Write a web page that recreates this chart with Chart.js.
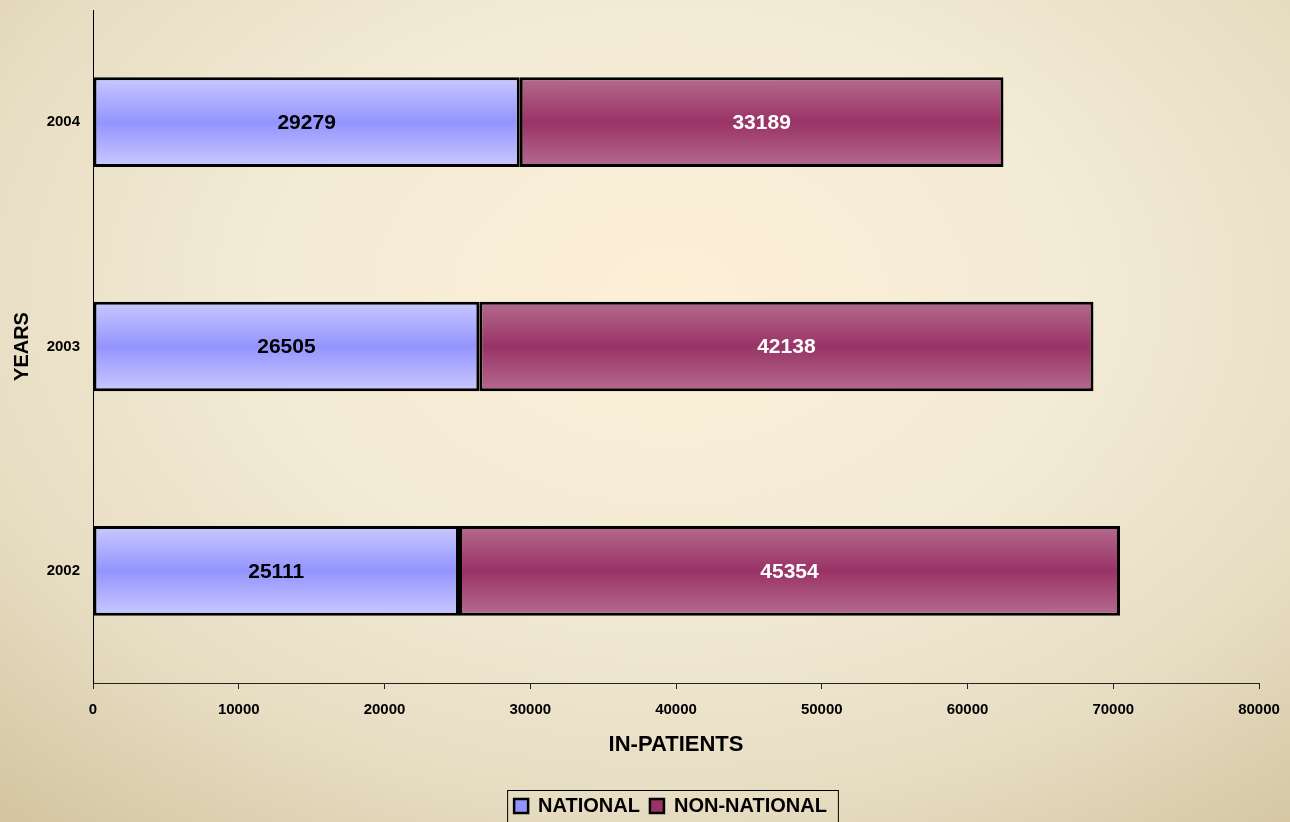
<!DOCTYPE html>
<html>
<head>
<meta charset="utf-8">
<script src="https://cdn.jsdelivr.net/npm/chart.js@4/dist/chart.umd.min.js"></script>
<style>
  html, body { margin: 0; padding: 0; }
  body {
    width: 1290px; height: 822px; overflow: hidden;
    background: radial-gradient(ellipse 78% 85% at 52% 36%, #fcefd6 0%, #f4ebd6 40%, #e7ddc3 72%, #d3c59f 100%);
  }
  #wrap { position: relative; width: 1290px; height: 822px; }
</style>
</head>
<body>
<div id="wrap"><canvas id="inpatientChart"></canvas></div>
<script>
document.addEventListener("DOMContentLoaded", function () {
  const years = ["2004", "2003", "2002"];
  const national = [29279, 26505, 25111];
  const nonNational = [33189, 42138, 45354];
  const xTicks = [0, 10000, 20000, 30000, 40000, 50000, 60000, 70000, 80000];

  const font = "'Liberation Sans', Arial, sans-serif";
  const natLight = "#c9c9ff", natDark = "#9494ff";
  const nonLight = "#b56b8f", nonDark = "#993366";

  // vertical light-dark-light gradient for each bar
  function barFill(light, dark) {
    return function (c) {
      const y = c.chart.scales && c.chart.scales.y;
      if (!y || c.type !== "data" || y.height === undefined) return dark;
      const cy = y.getPixelForValue(c.dataIndex);
      const half = (y.height / years.length) * 0.4 / 2;
      const g = c.chart.ctx.createLinearGradient(0, cy - half, 0, cy + half);
      g.addColorStop(0, light);
      g.addColorStop(0.5, dark);
      g.addColorStop(1, light);
      return g;
    };
  }

  // value labels in the middle of each bar
  const valueLabels = {
    id: "valueLabels",
    afterDatasetsDraw(chart) {
      const ctx = chart.ctx;
      ctx.save();
      ctx.font = "bold 21px " + font;
      ctx.textAlign = "center";
      ctx.textBaseline = "middle";
      chart.data.datasets.forEach((ds, i) => {
        chart.getDatasetMeta(i).data.forEach((el, j) => {
          ctx.fillStyle = i === 0 ? "#000" : "#fff";
          ctx.fillText(String(ds.data[j]), (el.x + el.base) / 2, el.y + 1);
        });
      });
      ctx.restore();
    },
  };

  // shift legend and frame it
  const legendFrame = {
    id: "legendFrame",
    afterLayout(chart) {
      if (chart.legend) {
        chart.legend.left += 82;
        chart.legend.top += 4;
      }
    },
    afterDraw(chart) {
      const boxes = chart.legend && chart.legend.legendHitBoxes;
      if (!boxes || !boxes.length) return;
      const l = Math.min(...boxes.map((b) => b.left)) - 7;
      const r = Math.max(...boxes.map((b) => b.left + b.width)) + 11;
      const t = Math.min(...boxes.map((b) => b.top)) - 6;
      const ctx = chart.ctx;
      ctx.save();
      ctx.strokeStyle = "#000";
      ctx.lineWidth = 1;
      ctx.strokeRect(l + 0.5, t + 0.5, r - l, 60);
      ctx.restore();
    },
  };

  new Chart(document.getElementById("inpatientChart").getContext("2d"), {
    type: "bar",
    data: {
      labels: years,
      datasets: [
        { label: "NATIONAL", data: national, backgroundColor: barFill(natLight, natDark), borderColor: "#000", borderWidth: 3, borderSkipped: false },
        { label: "NON-NATIONAL", data: nonNational, backgroundColor: barFill(nonLight, nonDark), borderColor: "#000", borderWidth: 3, borderSkipped: false },
      ],
    },
    options: {
      indexAxis: "y",
      responsive: true,
      maintainAspectRatio: false,
      animation: false,
      layout: { padding: { top: 10, right: 31, left: 0, bottom: 0 } },
      barPercentage: 0.4,
      categoryPercentage: 1,
      plugins: {
        tooltip: { enabled: false },
        legend: {
          position: "bottom",
          labels: {
            color: "#000",
            font: { family: font, size: 20, weight: "bold" },
            boxWidth: 14,
            boxHeight: 14,
            padding: 10,
            generateLabels: (chart) =>
              chart.data.datasets.map((ds, i) => ({
                text: ds.label,
                fillStyle: i === 0 ? natDark : nonDark,
                strokeStyle: "#000",
                lineWidth: 2.5,
                fontColor: "#000",
                datasetIndex: i,
              })),
          },
        },
      },
      scales: {
        x: {
          stacked: true,
          min: 0,
          max: 80000,
          afterBuildTicks: (s) => { s.ticks = xTicks.map((v) => ({ value: v })); },
          afterFit: (s) => { s.height = 99; s.paddingRight = 0; s.paddingLeft = 0; },
          grid: { drawOnChartArea: false, drawTicks: true, tickLength: 6, color: "#222" },
          border: { display: true, color: "#222", width: 1 },
          ticks: { color: "#000", font: { family: font, size: 15, weight: "bold" }, padding: 12, maxRotation: 0, callback: (v) => String(v) },
          title: { display: true, text: "IN-PATIENTS", color: "#000", font: { family: font, size: 22, weight: "bold" }, padding: { top: 4, bottom: 24 } },
        },
        y: {
          stacked: true,
          afterFit: (s) => { s.width = 93; s.paddingTop = 0; s.paddingBottom = 0; },
          grid: { drawOnChartArea: false, drawTicks: false },
          border: { display: true, color: "#000", width: 1 },
          ticks: { color: "#000", font: { family: font, size: 15, weight: "bold" }, padding: 13 },
          title: { display: true, text: "YEARS", color: "#000", font: { family: font, size: 20, weight: "bold" }, padding: { top: 10, bottom: 0 } },
        },
      },
    },
    plugins: [valueLabels, legendFrame],
  });
});
</script>
</body>
</html>
